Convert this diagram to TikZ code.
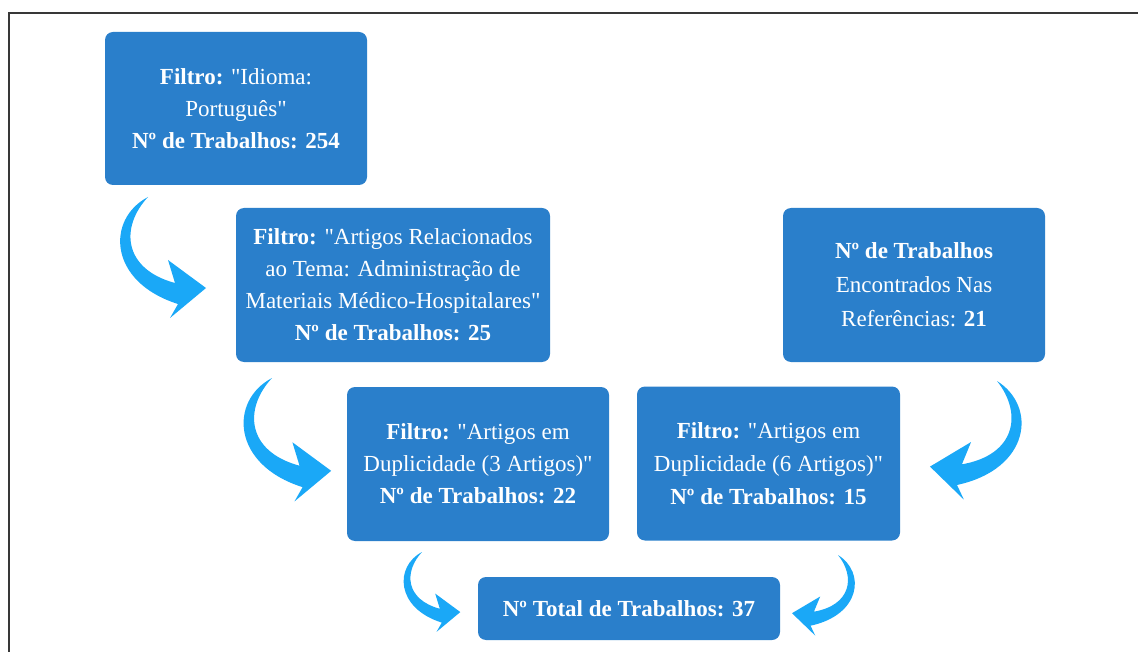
\documentclass[tikz,border=0pt]{standalone}
\usepackage{fontspec}
\setmainfont{Liberation Serif}
\definecolor{boxblue}{HTML}{2A7FCB}
\definecolor{arrowblue}{HTML}{1AA8F7}
\definecolor{framegray}{HTML}{383838}
\newcommand\qt{\textquotedbl}
\tikzset{
  box/.style={fill=boxblue, rounded corners=8pt, text=white, align=center,
    inner sep=0pt, font=\fontsize{23}{32}\selectfont},
  curvedarrow/.pic={
    \fill[arrowblue] (0,0) .. controls (-42,22) and (-40,85) .. (30,107)
      -- (22,121) -- (58,91) -- (20,63) -- (27,86)
      .. controls (-25,72) and (-28,30) .. (0,0) -- cycle;
  },
  frameline/.style={line width=2pt, draw=framegray}
}
\begin{document}
\begin{tikzpicture}[x=1pt, y=-1pt]
\useasboundingbox (0,0) rectangle (1138,652);
\draw[frameline] (8,13) -- (1138,13);
\draw[frameline] (9,13) -- (9,652);

\node[box, minimum width=262pt, minimum height=153pt] (b1) at (236,108.5)
  {\textbf{Filtro:} \qt Idioma:\\ Português\qt\\ \textbf{Nº de Trabalhos: 254}};
\node[box, minimum width=314pt, minimum height=154pt] (b2) at (393,285)
  {\textbf{Filtro:} \qt Artigos Relacionados\\ ao Tema: Administração de\\ Materiais Médico-Hospitalares\qt\\ \textbf{Nº de Trabalhos: 25}};
\node[box, minimum width=262pt, minimum height=154pt, font=\fontsize{23}{34}\selectfont] (b3) at (914,285)
  {\textbf{Nº de Trabalhos}\\ Encontrados Nas\\ Referências: \textbf{21}};
\node[box, minimum width=262pt, minimum height=154pt] (b4) at (478,464)
  {\textbf{Filtro:} \qt Artigos em\\ Duplicidade (3 Artigos)\qt\\ \textbf{Nº de Trabalhos: 22}};
\node[box, minimum width=263pt, minimum height=154pt, font=\fontsize{23}{33}\selectfont] (b5) at (768.5,463.5)
  {\textbf{Filtro:} \qt Artigos em\\ Duplicidade (6 Artigos)\qt\\ \textbf{Nº de Trabalhos: 15}};
\node[box, minimum width=302pt, minimum height=63pt] (b6) at (629,608.5)
  {\textbf{Nº Total de Trabalhos: 37}};

\pic at (148,197) {curvedarrow};
\pic[scale=1.02] at (272,378) {curvedarrow};
\pic[scale=0.66] at (422,552) {curvedarrow};
\pic[xscale=-1.02, rotate=5] at (997,381) {curvedarrow};
\pic[xscale=-0.7, yscale=0.68, rotate=5] at (838,555) {curvedarrow};
\end{tikzpicture}
\end{document}
